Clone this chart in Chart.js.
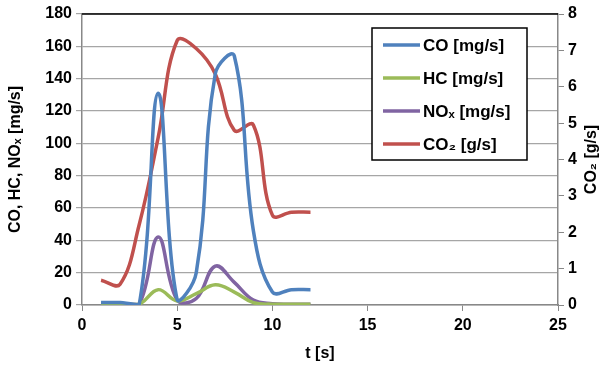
<!DOCTYPE html>
<html>
<head>
<meta charset="utf-8">
<script src="https://cdn.jsdelivr.net/npm/chart.js@4.4.1/dist/chart.umd.min.js"></script>
<style>
  html, body { margin: 0; padding: 0; background: #fff; }
  #wrap { width: 606px; height: 367px; }
</style>
</head>
<body>
<div id="wrap"><canvas id="myChart" width="606" height="367"></canvas></div>
<script>
// time axis [s]
const time = [1, 2, 3, 4, 5, 6, 7, 8, 9, 10, 11, 12];

// emissions per second
const co  = [1.5, 1.5, 0, 131, 3, 20, 143, 154, 46, 8, 9.5, 9.5];       // mg/s
const hc  = [0.5, 0.5, 0.5, 9.5, 2.5, 7, 12.5, 8, 1.5, 0.5, 0.5, 0.5];  // mg/s
const nox = [0.5, 0.5, 0.5, 42, 3, 4, 24, 14, 3, 0.8, 0.5, 0.5];        // mg/s
const co2 = [0.68, 0.57, 2.2, 4.6, 7.27, 7.05, 6.35, 4.8, 4.95, 2.47, 2.55, 2.55]; // g/s

const seriesNames = ['CO [mg/s]', 'HC [mg/s]', 'NOₓ [mg/s]', 'CO₂ [g/s]'];
const seriesColors = ['#4F81BD', '#9BBB59', '#8064A2', '#C0504D'];

const xTicks = { min: 0, max: 25, step: 5 };
const yTicks = { min: 0, max: 180, step: 20 };
const y2Ticks = { min: 0, max: 8, step: 1 };
const y2Title = 'CO₂ [g/s]';

const FONT = 'Liberation Sans, Arial, sans-serif';

function points(ys) {
	return time.map((t, i) => ({ x: t, y: ys[i] }));
}

const allSeries = [co, hc, nox, co2];
const datasets = allSeries.map((s, i) => ({
	label: seriesNames[i],
	data: points(s),
	borderColor: seriesColors[i],
	backgroundColor: seriesColors[i],
	borderWidth: 3.5,
	pointRadius: 0,
	tension: 0.4,
	yAxisID: i === 3 ? 'y2' : 'y'
}));

// boxed legend inside the plot, upper right
const boxLegend = {
	id: 'boxLegend',
	afterDraw(chart) {
		const ctx = chart.ctx;
		const a = chart.chartArea;
		const bx = a.left + 290, by = a.top + 14, bw = 155, bh = 132;
		ctx.save();
		ctx.fillStyle = '#fff';
		ctx.fillRect(bx, by, bw, bh);
		ctx.strokeStyle = '#000';
		ctx.lineWidth = 1.5;
		ctx.strokeRect(bx, by, bw, bh);
		ctx.font = 'bold 17px ' + FONT;
		ctx.textBaseline = 'middle';
		chart.data.datasets.forEach((d, i) => {
			const yy = by + 17 + i * 33;
			ctx.strokeStyle = d.borderColor;
			ctx.lineWidth = 3.5;
			ctx.beginPath();
			ctx.moveTo(bx + 11, yy);
			ctx.lineTo(bx + 48, yy);
			ctx.stroke();
			ctx.fillStyle = '#000';
			ctx.fillText(d.label, bx + 51, yy + 1);
		});
		ctx.restore();
	}
};

// black top edge of the plot area, and the right axis title read bottom-up
const plotEdge = {
	id: 'plotEdge',
	beforeDatasetsDraw(chart) {
		const ctx = chart.ctx;
		const a = chart.chartArea;
		ctx.save();
		ctx.strokeStyle = '#000';
		ctx.lineWidth = 1.5;
		ctx.beginPath();
		ctx.moveTo(a.left, a.top);
		ctx.lineTo(a.right, a.top);
		ctx.stroke();
		ctx.restore();
	},
	afterDraw(chart) {
		const ctx = chart.ctx;
		const a = chart.chartArea;
		const s = chart.scales.y2;
		ctx.save();
		ctx.translate(s.right - 14, (a.top + a.bottom) / 2);
		ctx.rotate(-Math.PI / 2);
		ctx.font = 'bold 16px ' + FONT;
		ctx.fillStyle = '#000';
		ctx.textAlign = 'center';
		ctx.textBaseline = 'middle';
		ctx.fillText(y2Title, 0, 0);
		ctx.restore();
	}
};

const tickFont = { family: FONT, size: 16, weight: 'bold' };
const titleFont = { family: FONT, size: 16, weight: 'bold' };

new Chart(document.getElementById('myChart'), {
	type: 'line',
	data: { datasets: datasets },
	plugins: [plotEdge, boxLegend],
	options: {
		responsive: false,
		animation: false,
		devicePixelRatio: 1,
		layout: { padding: { top: 14, left: 0, right: 0, bottom: 0 } },
		plugins: { legend: { display: false }, tooltip: { enabled: false } },
		scales: {
			x: {
				type: 'linear',
				min: xTicks.min, max: xTicks.max,
				ticks: { stepSize: xTicks.step, color: '#000', font: tickFont, padding: 5 },
				grid: { drawOnChartArea: false, color: '#888', tickLength: 6 },
				border: { color: '#888', width: 1.5 },
				title: { display: true, text: 't [s]', color: '#000', font: titleFont },
				afterFit(s) { s.height = 62; }
			},
			y: {
				position: 'left',
				min: yTicks.min, max: yTicks.max,
				ticks: { stepSize: yTicks.step, color: '#000', font: tickFont, padding: 4 },
				grid: { color: '#a6a6a6', lineWidth: 1.2, tickLength: 6 },
				border: { color: '#888', width: 1.5 },
				title: { display: true, text: 'CO, HC, NOₓ [mg/s]', color: '#000', font: titleFont, padding: { top: 6, bottom: 4 } },
				afterFit(s) { s.width = 82; }
			},
			y2: {
				position: 'right',
				min: y2Ticks.min, max: y2Ticks.max,
				ticks: { stepSize: y2Ticks.step, color: '#000', font: tickFont, padding: 4 },
				grid: { drawOnChartArea: false, color: '#888', tickLength: 6 },
				border: { color: '#888', width: 1.5 },
				afterFit(s) { s.width = 48; }
			}
		}
	}
});
</script>
</body>
</html>
